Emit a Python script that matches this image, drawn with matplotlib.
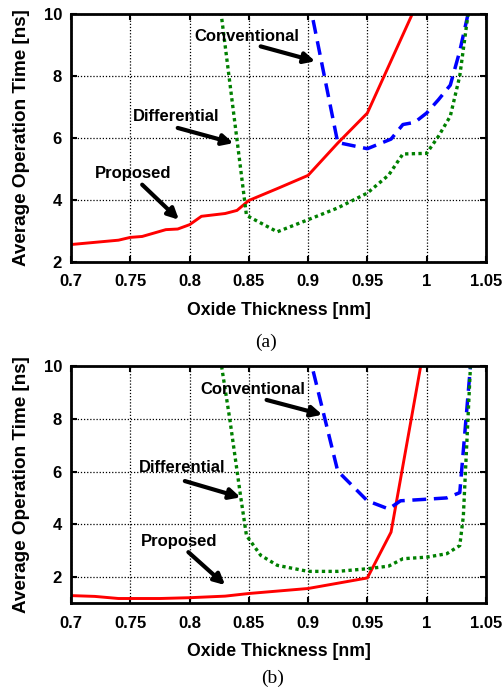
import numpy as np
import matplotlib.pyplot as plt

plt.rcParams['font.family'] = ['Liberation Sans', 'DejaVu Sans']
plt.rcParams['font.weight'] = 'bold'

# (a)
prop_a_x = [0.70, 0.74, 0.75, 0.76, 0.78, 0.79, 0.80, 0.81, 0.83, 0.84, 0.85, 0.875, 0.90, 0.925, 0.95, 0.988]
prop_a_y = [2.56, 2.70, 2.79, 2.82, 3.04, 3.06, 3.20, 3.47, 3.56, 3.66, 3.98, 4.38, 4.79, 5.83, 6.80, 10.0]
conv_a_x = [0.90, 0.925, 0.95, 0.97, 0.98, 0.99, 1.00, 1.01, 1.02, 1.028, 1.035]
conv_a_y = [10.6, 5.85, 5.65, 5.96, 6.43, 6.50, 6.80, 7.23, 7.70, 8.80, 10.0]
diff_a_x = [0.825, 0.84, 0.848, 0.874, 0.90, 0.925, 0.95, 0.968, 0.98, 1.00, 1.01, 1.02, 1.028, 1.035]
diff_a_y = [10.5, 5.94, 3.50, 2.97, 3.36, 3.74, 4.22, 4.80, 5.48, 5.50, 6.05, 6.70, 8.00, 10.0]

# (b)
prop_b_x = [0.70, 0.72, 0.74, 0.775, 0.80, 0.83, 0.85, 0.90, 0.95, 0.97, 0.995]
prop_b_y = [1.29, 1.26, 1.18, 1.18, 1.21, 1.27, 1.37, 1.56, 1.96, 3.70, 10.0]
conv_b_x = [0.90, 0.925, 0.95, 0.968, 0.978, 1.00, 1.017, 1.028, 1.037]
conv_b_y = [10.6, 6.02, 4.89, 4.58, 4.89, 4.95, 5.00, 5.20, 10.0]
diff_b_x = [0.827, 0.834, 0.843, 0.848, 0.86, 0.874, 0.90, 0.925, 0.95, 0.968, 0.98, 1.00, 1.017, 1.028, 1.031, 1.037]
diff_b_y = [10.0, 7.97, 5.08, 3.57, 2.82, 2.44, 2.21, 2.21, 2.31, 2.41, 2.69, 2.75, 2.88, 3.19, 4.30, 10.0]

x_ticks = [0.7, 0.75, 0.8, 0.85, 0.9, 0.95, 1.0, 1.05]
x_ticklabels = ['0.7', '0.75', '0.8', '0.85', '0.9', '0.95', '1', '1.05']
y_ticks = [2, 4, 6, 8, 10]

fig = plt.figure(figsize=(5.04, 6.91), dpi=100)
ax1 = fig.add_axes([0.141, 0.621, 0.823, 0.359])
ax2 = fig.add_axes([0.141, 0.127, 0.823, 0.343])


def draw(ax, prop, conv, diff, ylim, notes):
    ax.plot(*prop, color='red', lw=2.1, solid_joinstyle='miter')
    ax.plot(*conv, color='blue', lw=2.5, dashes=(4, 2.2))
    ax.plot(*diff, color='green', lw=2.4, linestyle=(0, (1, 1)), dash_capstyle='butt')
    ax.set_xlim(0.7, 1.05)
    ax.set_ylim(*ylim)
    ax.set_xticks(x_ticks)
    ax.set_xticklabels(x_ticklabels)
    ax.set_yticks(y_ticks)
    ax.grid(True, color='black', linestyle=(0, (1, 1.5)), lw=0.9)
    ax.tick_params(direction='in', top=True, right=True, width=1.5, length=4, labelsize=12)
    ax.tick_params(axis='x', pad=9)
    ax.tick_params(axis='y', pad=6.5)
    for sp in ax.spines.values():
        sp.set_linewidth(2)
    ax.set_xlabel('Oxide Thickness [nm]', fontsize=12.7, fontweight='bold', labelpad=9)
    ax.set_ylabel('Average Operation Time [ns]', fontsize=13.6, fontweight='bold', labelpad=10)
    for label, txt_xy, tail, head in notes:
        ax.text(*txt_xy, label, fontsize=12, fontweight='bold', ha='center', va='center')
        ax.annotate('', xy=head, xytext=tail,
                    arrowprops=dict(arrowstyle='-|>', color='black', lw=3, mutation_scale=16,
                                    shrinkA=0, shrinkB=0))


draw(ax1, (prop_a_x, prop_a_y), (conv_a_x, conv_a_y), (diff_a_x, diff_a_y), (2, 10),
     [('Conventional', (0.848, 9.27), (0.86, 8.95), (0.906, 8.47)),
      ('Differential', (0.789, 6.69), (0.79, 6.32), (0.837, 5.83)),
      ('Proposed', (0.752, 4.85), (0.76, 4.49), (0.791, 3.36))])
draw(ax2, (prop_b_x, prop_b_y), (conv_b_x, conv_b_y), (diff_b_x, diff_b_y), (1, 10),
     [('Conventional', (0.853, 9.12), (0.865, 8.72), (0.912, 8.16)),
      ('Differential', (0.794, 6.15), (0.796, 5.64), (0.843, 5.02)),
      ('Proposed', (0.791, 3.36), (0.799, 2.94), (0.83, 1.69))])

fig.text(0.528, 1 - 342 / 691, '(a)', family='Liberation Serif', fontweight='normal', fontsize=14, ha='center', va='center')
fig.text(0.54, 1 - 678 / 691, '(b)', family='Liberation Serif', fontweight='normal', fontsize=14, ha='center', va='center')

fig.savefig('out.png', dpi=100)
